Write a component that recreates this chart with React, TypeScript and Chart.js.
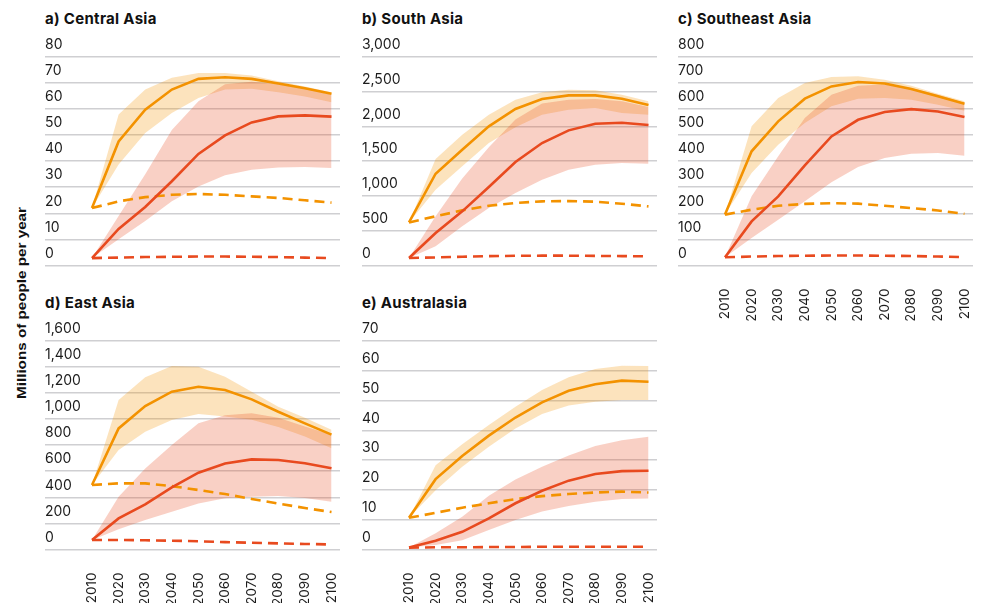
import React, { useEffect, useRef } from "react";
import { Chart, registerables } from "chart.js";

Chart.register(...registerables);

// ---------- DATA ----------
const YEARS = [2010, 2020, 2030, 2040, 2050, 2060, 2070, 2080, 2090, 2100];

// a) Central Asia
const caOrangeMid = [22, 47.6, 59.8, 67.5, 71.6, 72.2, 71.6, 69.8, 68, 65.9];
const caOrangeHi = [22, 57.9, 67.5, 72, 73.9, 73.9, 72.9, 70.7, 68.7, 66.5];
const caOrangeLo = [22, 38.7, 50.8, 58.5, 64.3, 67.5, 67.8, 66.5, 64.8, 62.6];
const caRedMid = [2.8, 14, 22.4, 32.3, 42.8, 49.9, 54.9, 57.2, 57.6, 57.1];
const caRedHi = [2.8, 19, 35, 52, 63, 69.5, 70.5, 69.5, 67.8, 65.5];
const caRedLo = [2.8, 10, 17, 24.6, 30.3, 34.6, 36.7, 37.6, 37.8, 37.4];
const caOrangeDash = [22, 24.6, 26.2, 27.1, 27.4, 27.1, 26.5, 25.9, 25, 24.1];
const caRedDash = [2.8, 3.0, 3.2, 3.3, 3.4, 3.4, 3.3, 3.2, 3.0, 2.8];

// b) South Asia
const saOrangeMid = [619, 1320, 1666, 2002, 2251, 2395, 2448, 2448, 2400, 2309];
const saOrangeHi = [619, 1531, 1882, 2170, 2386, 2491, 2530, 2520, 2458, 2362];
const saOrangeLo = [619, 1090, 1426, 1762, 1990, 2170, 2242, 2266, 2194, 2170];
const saRedMid = [106, 466, 778, 1128, 1488, 1762, 1944, 2040, 2054, 2021];
const saRedHi = [106, 706, 1250, 1700, 2100, 2330, 2386, 2395, 2362, 2280];
const saRedLo = [106, 274, 562, 826, 1042, 1234, 1378, 1450, 1474, 1464];
const saOrangeDash = [619, 706, 792, 859, 898, 922, 926, 917, 888, 850];
const saRedDash = [106, 115, 125, 133, 138, 140, 140, 137, 134, 130];

// c) Southeast Asia
const seOrangeMid = [195, 438, 553, 640, 687, 704, 698, 677, 649, 621];
const seOrangeHi = [195, 534, 643, 700, 723, 726, 713, 690, 659, 630];
const seOrangeLo = [195, 355, 463, 547, 611, 640, 643, 636, 617, 594];
const seRedMid = [31, 169, 265, 384, 495, 559, 589, 600, 591, 570];
const seRedHi = [31, 265, 419, 566, 655, 690, 694, 681, 655, 623];
const seRedLo = [31, 105, 175, 246, 319, 378, 412, 429, 431, 421];
const seOrangeDash = [195, 214, 229, 236, 239, 237, 229, 220, 211, 198];
const seRedDash = [31, 34, 36, 37, 38, 38, 37, 36, 34, 32];

// d) East Asia
const eaOrangeMid = [494, 929, 1101, 1211, 1249, 1224, 1152, 1057, 968, 881];
const eaOrangeHi = [494, 1147, 1321, 1408, 1403, 1326, 1211, 1096, 1010, 918];
const eaOrangeLo = [494, 763, 904, 993, 1039, 1020, 995, 940, 866, 777];
const eaRedMid = [72, 238, 346, 476, 589, 660, 691, 686, 661, 623];
const eaRedHi = [72, 404, 622, 801, 968, 1030, 1045, 1010, 943, 880];
const eaRedLo = [72, 154, 225, 289, 353, 392, 404, 410, 395, 366];
const eaOrangeDash = [494, 507, 507, 486, 456, 425, 387, 352, 318, 287];
const eaRedDash = [72, 72, 70, 67, 62, 56, 51, 46, 42, 38];

// e) Australasia
const auOrangeMid = [10.6, 23.6, 31.4, 38.2, 44.3, 49.4, 53.3, 55.5, 56.7, 56.3];
const auOrangeHi = [10.6, 28.3, 35.3, 41.8, 47.9, 53.5, 57.8, 60.6, 61.7, 61.6];
const auOrangeLo = [10.6, 19.9, 27.8, 34.5, 40.6, 45.5, 48.3, 49.6, 50.2, 50.2];
const auRedMid = [0.6, 2.9, 5.9, 10.4, 15.5, 19.7, 23.1, 25.3, 26.3, 26.4];
const auRedHi = [0.6, 5.4, 11, 18, 23.5, 27.8, 31.5, 34.7, 36.7, 37.8];
const auRedLo = [0.6, 1.5, 3.1, 6.5, 9.9, 12.7, 14.6, 16, 16.9, 17.1];
const auOrangeDash = [10.6, 12.3, 14, 15.5, 16.9, 17.9, 18.6, 19.1, 19.4, 19.1];
const auRedDash = [0.6, 0.7, 0.7, 0.8, 0.8, 0.9, 0.9, 0.9, 0.9, 0.9];

const TITLES = ["a) Central Asia", "b) South Asia", "c) Southeast Asia", "d) East Asia", "e) Australasia"];
const Y_MAX = [80, 3000, 800, 1600, 70];
const Y_STEP = [10, 500, 100, 200, 10];
const Y_AXIS_TITLE = "Millions of people per year";

// ---------- STYLE ----------
const ORANGE = "#F39200";
const RED = "#E84A1F";
const ORANGE_BAND = "rgba(243,146,0,0.26)";
const RED_BAND = "rgba(232,72,30,0.26)";
const GRID = "#cfcfd2";
const TEXT = "#1c1c1c";
const FONT = "Inter, 'Noto Sans', sans-serif";

const CHART_W = 295;
const CHART_H = 208.4;
const TOP_PAD = 27;
const X_AXIS_H = 55;

type Series = {
  oMid: number[]; oHi: number[]; oLo: number[];
  rMid: number[]; rHi: number[]; rLo: number[];
  oDash: number[]; rDash: number[];
};

const SERIES: Series[] = [
  { oMid: caOrangeMid, oHi: caOrangeHi, oLo: caOrangeLo, rMid: caRedMid, rHi: caRedHi, rLo: caRedLo, oDash: caOrangeDash, rDash: caRedDash },
  { oMid: saOrangeMid, oHi: saOrangeHi, oLo: saOrangeLo, rMid: saRedMid, rHi: saRedHi, rLo: saRedLo, oDash: saOrangeDash, rDash: saRedDash },
  { oMid: seOrangeMid, oHi: seOrangeHi, oLo: seOrangeLo, rMid: seRedMid, rHi: seRedHi, rLo: seRedLo, oDash: seOrangeDash, rDash: seRedDash },
  { oMid: eaOrangeMid, oHi: eaOrangeHi, oLo: eaOrangeLo, rMid: eaRedMid, rHi: eaRedHi, rLo: eaRedLo, oDash: eaOrangeDash, rDash: eaRedDash },
  { oMid: auOrangeMid, oHi: auOrangeHi, oLo: auOrangeLo, rMid: auRedMid, rHi: auRedHi, rLo: auRedLo, oDash: auOrangeDash, rDash: auRedDash },
];

// layout: chart-area left, chart-area top, show x labels
const LAYOUT = [
  { left: 45, top: 57.3, showX: false },
  { left: 362, top: 57.3, showX: false },
  { left: 678, top: 57.3, showX: true },
  { left: 45, top: 341.3, showX: true },
  { left: 362, top: 341.3, showX: true },
];

const X_MIN = 1992.34;
const X_MAX = 2103.19;

const pts = (arr: number[]) => YEARS.map((x, i) => ({ x, y: arr[i] }));

function Panel({ idx }: { idx: number }) {
  const ref = useRef<HTMLCanvasElement | null>(null);
  const lay = LAYOUT[idx];
  const s = SERIES[idx];
  const canvasTop = lay.top - TOP_PAD;
  const xh = lay.showX ? X_AXIS_H : 0;
  const canvasH = Math.ceil(TOP_PAD + CHART_H + xh + 4);
  const bottomPad = canvasH - TOP_PAD - CHART_H - xh;

  useEffect(() => {
    if (!ref.current) return;
    const line = (data: number[], color: string, dashed: boolean) => ({
      data: pts(data),
      borderColor: color,
      borderWidth: 2.6,
      borderDash: dashed ? [10, 6] : [],
      pointRadius: 0,
      fill: false,
      tension: 0,
    });
    const band = (data: number[], color: string, fillNext: boolean) => ({
      data: pts(data),
      borderColor: "rgba(0,0,0,0)",
      borderWidth: 0,
      pointRadius: 0,
      backgroundColor: color,
      fill: fillNext ? "+1" : false,
      tension: 0,
    });
    const chart = new Chart(ref.current, {
      type: "line",
      data: {
        datasets: [
          line(s.oMid, ORANGE, false),
          line(s.rMid, RED, false),
          line(s.oDash, ORANGE, true),
          line(s.rDash, RED, true),
          band(s.rHi, RED_BAND, true),
          band(s.rLo, RED_BAND, false),
          band(s.oHi, ORANGE_BAND, true),
          band(s.oLo, ORANGE_BAND, false),
        ] as any,
      },
      options: {
        animation: false,
        responsive: true,
        maintainAspectRatio: false,
        layout: { padding: { top: TOP_PAD, bottom: bottomPad, left: 0, right: 0 } },
        plugins: { legend: { display: false }, tooltip: { enabled: false } },
        scales: {
          x: {
            type: "linear",
            min: X_MIN,
            max: X_MAX,
            display: lay.showX,
            grid: { display: false },
            border: { display: false },
            afterBuildTicks: (sc: any) => {
              sc.ticks = YEARS.map((v) => ({ value: v }));
            },
            afterFit: (sc: any) => {
              sc.height = xh;
              sc.paddingLeft = 0;
              sc.paddingRight = 0;
            },
            ticks: {
              autoSkip: false,
              minRotation: 90,
              maxRotation: 90,
              padding: 15,
              color: TEXT,
              font: { family: FONT, size: 13.5 },
              callback: (v: any) => String(v),
            },
          },
          y: {
            type: "linear",
            min: 0,
            max: Y_MAX[idx],
            grid: { color: GRID, lineWidth: 1.6, drawTicks: false },
            border: { display: false },
            afterFit: (sc: any) => {
              sc.width = 0;
              sc.paddingTop = 0;
              sc.paddingBottom = 0;
            },
            ticks: {
              stepSize: Y_STEP[idx],
              mirror: true,
              padding: 0,
              labelOffset: -12,
              color: TEXT,
              font: { family: FONT, size: 14 },
              callback: (v: any) => Number(v).toLocaleString("en-US"),
            },
          },
        },
      } as any,
    });
    return () => chart.destroy();
  }, [idx]);

  return (
    <>
      <div
        style={{
          position: "absolute",
          left: lay.left,
          top: lay.top - 46,
          fontFamily: FONT,
          fontWeight: 700,
          fontSize: 15,
          letterSpacing: "0.3px",
          lineHeight: "15px",
          color: "#111",
          whiteSpace: "nowrap",
        }}
      >
        {TITLES[idx]}
      </div>
      <div
        style={{
          position: "absolute",
          left: lay.left,
          top: canvasTop,
          width: CHART_W,
          height: canvasH,
        }}
      >
        <canvas ref={ref} />
      </div>
    </>
  );
}

export default function App() {
  return (
    <div style={{ position: "absolute", left: 0, top: 0, width: 981, height: 603, background: "#fff" }}>
      <svg
        width={42}
        height={603}
        style={{ position: "absolute", left: 0, top: 0, overflow: "visible" }}
      >
        <text
          x={21}
          y={303}
          transform="rotate(-90 21 303)"
          textAnchor="middle"
          dominantBaseline="central"
          fontFamily="'Liberation Sans', Arial, sans-serif"
          fontWeight={700}
          fontSize={13.5}
          fill="#111"
          textLength={192}
          lengthAdjust="spacingAndGlyphs"
        >
          {Y_AXIS_TITLE}
        </text>
      </svg>
      {TITLES.map((_, i) => (
        <Panel key={i} idx={i} />
      ))}
    </div>
  );
}
